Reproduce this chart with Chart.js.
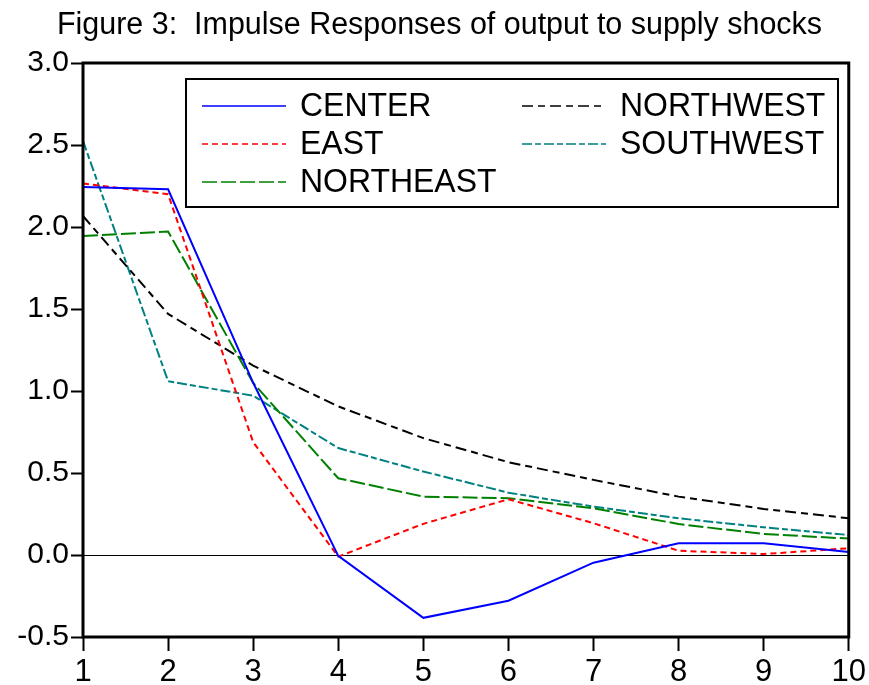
<!DOCTYPE html>
<html>
<head>
<meta charset="utf-8">
<script src="https://cdn.jsdelivr.net/npm/chart.js@4/dist/chart.umd.min.js"></script>
<style>
    body { margin: 0; background: #fff; }
    #wrap { width: 869px; height: 685px; }
</style>
</head>
<body>
<div id="wrap"><canvas id="grafica" width="869" height="685"></canvas></div>
<script>
// Respuestas al impulso del producto ante choques de oferta, por region.

var periodos = ['1', '2', '3', '4', '5', '6', '7', '8', '9', '10'];
var center = [2.244, 2.23, 1.05, -0.005, -0.383, -0.279, -0.047, 0.071, 0.071, 0.018];
var east = [2.265, 2.20, 0.688, -0.01, 0.19, 0.34, 0.194, 0.026, 0.006, 0.041];
var northeast = [1.945, 1.973, 1.049, 0.468, 0.356, 0.346, 0.285, 0.189, 0.128, 0.10];
var northwest = [2.067, 1.47, 1.155, 0.906, 0.713, 0.566, 0.458, 0.356, 0.281, 0.224];
var southwest = [2.525, 1.06, 0.971, 0.652, 0.509, 0.38, 0.295, 0.224, 0.169, 0.122];
var titulo = 'Figure 3:  Impulse Responses of output to supply shocks';
var fuente = '"Liberation Sans", Arial, sans-serif';

// Dibuja texto comprimido o estirado en horizontal hasta un ancho dado.
function textoAncho(ctx, texto, x, y, ancho) {
    var w = ctx.measureText(texto).width;
    ctx.save();
    ctx.translate(x, y);
    ctx.scale(ancho / w, 1);
    ctx.fillText(texto, 0, 0);
    ctx.restore();
}

function getLineDataSet(label, values, color, dash) {
    return {
        label: label,
        data: values,
        borderColor: color,
        backgroundColor: color,
        borderWidth: 2,
        borderDash: dash,
        pointRadius: 0,
        tension: 0,
        fill: false
    };
}

// Marco del area, linea en cero, titulo y leyenda dentro de la grafica.
var marcoPlugin = {
    id: 'marco',
    beforeDatasetsDraw: function (chart) {
        var ctx = chart.ctx;
        var a = chart.chartArea;
        var y0 = chart.scales.y.getPixelForValue(0);
        ctx.save();
        ctx.strokeStyle = '#000';
        ctx.lineWidth = 1;
        ctx.beginPath();
        ctx.moveTo(a.left, Math.round(y0) + 0.5);
        ctx.lineTo(a.right, Math.round(y0) + 0.5);
        ctx.stroke();
        ctx.restore();
    },
    afterDraw: function (chart) {
        var ctx = chart.ctx;
        var a = chart.chartArea;
        ctx.save();
        ctx.strokeStyle = '#000';
        ctx.lineWidth = 3;
        ctx.strokeRect(a.left, a.top, a.right - a.left, a.bottom - a.top);

        // titulo
        ctx.fillStyle = '#000';
        ctx.font = '31px ' + fuente;
        ctx.textBaseline = 'alphabetic';
        textoAncho(ctx, titulo, 57, 34, 765);

        // leyenda
        var caja = { x: 186, y: 79, w: 652, h: 128 };
        ctx.fillStyle = '#fff';
        ctx.fillRect(caja.x, caja.y, caja.w, caja.h);
        ctx.lineWidth = 2;
        ctx.strokeStyle = '#000';
        ctx.strokeRect(caja.x, caja.y, caja.w, caja.h);

        var posiciones = [
            { lx: 202, tx: 300, y: 106 },
            { lx: 202, tx: 300, y: 144 },
            { lx: 202, tx: 300, y: 182 },
            { lx: 522, tx: 620, y: 106 },
            { lx: 522, tx: 620, y: 144 }
        ];
        ctx.font = '34px ' + fuente;
        ctx.textBaseline = 'middle';
        chart.data.datasets.forEach(function (ds, i) {
            var p = posiciones[i];
            ctx.save();
            ctx.strokeStyle = ds.borderColor;
            ctx.lineWidth = 1.5;
            ctx.setLineDash(ds.borderDash || []);
            ctx.beginPath();
            ctx.moveTo(p.lx, p.y);
            ctx.lineTo(p.lx + 84, p.y);
            ctx.stroke();
            ctx.restore();
            ctx.fillStyle = '#000';
            var w = ctx.measureText(ds.label).width * 0.94;
            textoAncho(ctx, ds.label, p.tx, p.y + 1, w);
        });
        ctx.restore();
    }
};

var context = document.getElementById('grafica').getContext('2d');
var chart = new Chart(context, {
    type: 'line',
    data: {
        labels: periodos,
        datasets: [
            getLineDataSet('CENTER', center, '#0000ff', []),
            getLineDataSet('EAST', east, '#ff0000', [6, 4]),
            getLineDataSet('NORTHEAST', northeast, '#008000', [15, 4]),
            getLineDataSet('NORTHWEST', northwest, '#000000', [11, 5, 7, 5]),
            getLineDataSet('SOUTHWEST', southwest, '#008080', [10, 3, 6, 3])
        ]
    },
    options: {
        responsive: false,
        animation: false,
        layout: { padding: { top: 63, right: 20, left: 0, bottom: 0 } },
        plugins: {
            legend: { display: false },
            title: { display: false },
            tooltip: { enabled: false }
        },
        scales: {
            x: {
                offset: false,
                border: { display: false },
                grid: {
                    drawOnChartArea: false,
                    drawTicks: true,
                    tickLength: 14,
                    tickWidth: 2,
                    tickColor: '#000'
                },
                ticks: {
                    color: '#000',
                    font: { family: fuente, size: 31 },
                    padding: 3,
                    maxRotation: 0,
                    autoSkip: false
                },
                afterFit: function (s) { s.height = 48; }
            },
            y: {
                min: -0.5,
                max: 3.0,
                border: { display: false },
                grid: {
                    drawOnChartArea: false,
                    drawTicks: true,
                    tickLength: 12,
                    tickWidth: 2,
                    tickColor: '#000'
                },
                ticks: {
                    stepSize: 0.5,
                    color: '#000',
                    font: { family: fuente, size: 30 },
                    padding: 2,
                    callback: function (v) { return v.toFixed(1); }
                },
                afterFit: function (s) { s.width = 83; }
            }
        }
    },
    plugins: [marcoPlugin]
});
</script>
</body>
</html>
